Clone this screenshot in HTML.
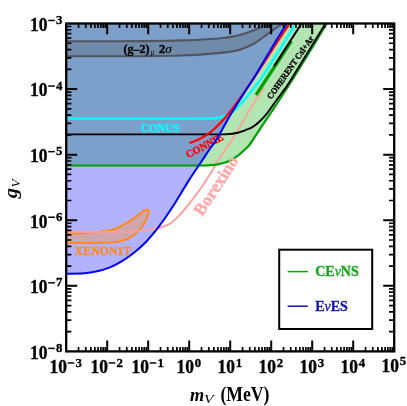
<!DOCTYPE html>
<html><head><meta charset="utf-8"><title>plot</title>
<style>html,body{margin:0;padding:0;background:#fff;}body{width:407px;height:406px;position:relative;overflow:hidden;font-family:"Liberation Serif",serif;}</style>
</head><body>
<svg width="407" height="406" viewBox="0 0 407 406" style="position:absolute;left:0;top:0;will-change:transform">
<defs><clipPath id="cf"><rect x="66.20" y="23.50" width="328.00" height="327.90"/></clipPath>
<clipPath id="cb"><path d="M66.20,273.70 C69.27,273.62 79.47,273.60 84.60,273.20 C89.73,272.80 92.88,272.23 97.00,271.30 C101.12,270.37 105.20,269.25 109.30,267.60 C113.40,265.95 117.50,263.87 121.60,261.40 C125.70,258.93 129.80,256.08 133.90,252.80 C138.00,249.52 143.10,244.75 146.20,241.70 C149.30,238.65 150.55,236.82 152.50,234.50 C154.45,232.18 155.68,230.72 157.90,227.80 C160.12,224.88 163.18,220.77 165.80,217.00 C168.42,213.23 170.98,209.30 173.60,205.20 C176.22,201.10 178.87,196.67 181.50,192.40 C184.13,188.13 186.77,183.72 189.40,179.60 C192.03,175.48 195.00,171.15 197.30,167.70 C199.60,164.25 201.23,161.85 203.20,158.90 C205.17,155.95 206.92,153.15 209.10,150.00 C211.28,146.85 214.12,143.42 216.30,140.00 C218.48,136.58 219.98,133.47 222.20,129.50 C224.42,125.53 227.15,120.38 229.60,116.20 C232.05,112.02 234.45,108.33 236.90,104.40 C239.35,100.47 241.70,96.67 244.30,92.60 C246.90,88.53 250.62,82.93 252.50,80.00 C254.38,77.07 251.85,81.25 255.60,75.00 C259.35,68.75 269.83,51.00 275.00,42.50 C280.17,34.00 284.67,27.08 286.60,24.00 L286.60,23.50 L66.20,23.50 Z"/></clipPath>
<clipPath id="cg"><path d="M66.20,165.50 C80.17,165.50 127.70,165.50 150.00,165.50 C172.30,165.50 190.00,165.55 200.00,165.50 C210.00,165.45 207.00,165.40 210.00,165.20 C213.00,165.00 215.33,164.78 218.00,164.30 C220.67,163.82 223.50,163.18 226.00,162.30 C228.50,161.42 230.67,160.38 233.00,159.00 C235.33,157.62 237.83,155.75 240.00,154.00 C242.17,152.25 244.43,150.00 246.00,148.50 C247.57,147.00 247.60,147.45 249.40,145.00 C251.20,142.55 254.33,137.52 256.80,133.80 C259.27,130.08 261.73,126.40 264.20,122.70 C266.67,119.00 269.13,115.30 271.60,111.60 C274.07,107.90 276.10,104.93 279.00,100.50 C281.90,96.07 285.25,90.95 289.00,85.00 C292.75,79.05 295.25,74.97 301.50,64.80 C307.75,54.63 322.33,30.80 326.50,24.00 L326.50,23.50 L66.20,23.50 Z"/></clipPath>
</defs>
<rect width="407" height="406" fill="#fff"/>
<g clip-path="url(#cf)">
<path d="M66.20,273.70 C69.27,273.62 79.47,273.60 84.60,273.20 C89.73,272.80 92.88,272.23 97.00,271.30 C101.12,270.37 105.20,269.25 109.30,267.60 C113.40,265.95 117.50,263.87 121.60,261.40 C125.70,258.93 129.80,256.08 133.90,252.80 C138.00,249.52 143.10,244.75 146.20,241.70 C149.30,238.65 150.55,236.82 152.50,234.50 C154.45,232.18 155.68,230.72 157.90,227.80 C160.12,224.88 163.18,220.77 165.80,217.00 C168.42,213.23 170.98,209.30 173.60,205.20 C176.22,201.10 178.87,196.67 181.50,192.40 C184.13,188.13 186.77,183.72 189.40,179.60 C192.03,175.48 195.00,171.15 197.30,167.70 C199.60,164.25 201.23,161.85 203.20,158.90 C205.17,155.95 206.92,153.15 209.10,150.00 C211.28,146.85 214.12,143.42 216.30,140.00 C218.48,136.58 219.98,133.47 222.20,129.50 C224.42,125.53 227.15,120.38 229.60,116.20 C232.05,112.02 234.45,108.33 236.90,104.40 C239.35,100.47 241.70,96.67 244.30,92.60 C246.90,88.53 250.62,82.93 252.50,80.00 C254.38,77.07 251.85,81.25 255.60,75.00 C259.35,68.75 269.83,51.00 275.00,42.50 C280.17,34.00 284.67,27.08 286.60,24.00 L286.60,23.50 L66.20,23.50 Z" fill="#b2b2ff"/>
<path d="M66.20,165.50 C80.17,165.50 127.70,165.50 150.00,165.50 C172.30,165.50 190.00,165.55 200.00,165.50 C210.00,165.45 207.00,165.40 210.00,165.20 C213.00,165.00 215.33,164.78 218.00,164.30 C220.67,163.82 223.50,163.18 226.00,162.30 C228.50,161.42 230.67,160.38 233.00,159.00 C235.33,157.62 237.83,155.75 240.00,154.00 C242.17,152.25 244.43,150.00 246.00,148.50 C247.57,147.00 247.60,147.45 249.40,145.00 C251.20,142.55 254.33,137.52 256.80,133.80 C259.27,130.08 261.73,126.40 264.20,122.70 C266.67,119.00 269.13,115.30 271.60,111.60 C274.07,107.90 276.10,104.93 279.00,100.50 C281.90,96.07 285.25,90.95 289.00,85.00 C292.75,79.05 295.25,74.97 301.50,64.80 C307.75,54.63 322.33,30.80 326.50,24.00 L326.50,23.50 L66.20,23.50 Z" fill="#b2e5b2"/>
<g clip-path="url(#cb)"><path d="M66.20,165.50 C80.17,165.50 127.70,165.50 150.00,165.50 C172.30,165.50 190.00,165.55 200.00,165.50 C210.00,165.45 207.00,165.40 210.00,165.20 C213.00,165.00 215.33,164.78 218.00,164.30 C220.67,163.82 223.50,163.18 226.00,162.30 C228.50,161.42 230.67,160.38 233.00,159.00 C235.33,157.62 237.83,155.75 240.00,154.00 C242.17,152.25 244.43,150.00 246.00,148.50 C247.57,147.00 247.60,147.45 249.40,145.00 C251.20,142.55 254.33,137.52 256.80,133.80 C259.27,130.08 261.73,126.40 264.20,122.70 C266.67,119.00 269.13,115.30 271.60,111.60 C274.07,107.90 276.10,104.93 279.00,100.50 C281.90,96.07 285.25,90.95 289.00,85.00 C292.75,79.05 295.25,74.97 301.50,64.80 C307.75,54.63 322.33,30.80 326.50,24.00 L326.50,23.50 L66.20,23.50 Z" fill="#7da0cb"/></g>
<g clip-path="url(#cb)"><path d="M66.20,41.20 C71.83,41.20 87.70,41.22 100.00,41.20 C112.30,41.18 128.33,41.18 140.00,41.10 C151.67,41.02 162.55,40.83 170.00,40.70 C177.45,40.57 179.78,40.45 184.70,40.30 C189.62,40.15 194.58,40.05 199.50,39.80 C204.42,39.55 209.62,39.18 214.20,38.80 C218.78,38.42 222.75,38.12 227.00,37.50 C231.25,36.88 235.12,36.35 239.70,35.10 C244.28,33.85 250.57,31.48 254.50,30.00 C258.43,28.52 260.97,27.28 263.30,26.20 C265.63,25.12 267.22,24.20 268.50,23.50 C269.78,22.80 270.58,22.25 271.00,22.00 L284.00,22.00 C283.72,22.25 283.03,22.92 282.30,23.50 C281.57,24.08 281.78,23.93 279.60,25.50 C277.42,27.07 273.38,29.93 269.20,32.90 C265.02,35.87 259.42,40.50 254.50,43.30 C249.58,46.10 244.28,48.23 239.70,49.70 C235.12,51.17 231.25,51.48 227.00,52.10 C222.75,52.72 218.78,52.98 214.20,53.40 C209.62,53.82 204.42,54.28 199.50,54.60 C194.58,54.92 189.62,55.10 184.70,55.30 C179.78,55.50 177.45,55.65 170.00,55.80 C162.55,55.95 151.67,56.12 140.00,56.20 C128.33,56.28 112.30,56.28 100.00,56.30 C87.70,56.32 71.83,56.30 66.20,56.30 Z" fill="#708aaa"/>
<path d="M66.20,41.20 C71.83,41.20 87.70,41.22 100.00,41.20 C112.30,41.18 128.33,41.18 140.00,41.10 C151.67,41.02 162.55,40.83 170.00,40.70 C177.45,40.57 179.78,40.45 184.70,40.30 C189.62,40.15 194.58,40.05 199.50,39.80 C204.42,39.55 209.62,39.18 214.20,38.80 C218.78,38.42 222.75,38.12 227.00,37.50 C231.25,36.88 235.12,36.35 239.70,35.10 C244.28,33.85 250.57,31.48 254.50,30.00 C258.43,28.52 260.97,27.28 263.30,26.20 C265.63,25.12 267.22,24.20 268.50,23.50 C269.78,22.80 270.58,22.25 271.00,22.00" fill="none" stroke="#50555f" stroke-width="2.1"/>
<path d="M66.20,56.30 C71.83,56.30 87.70,56.32 100.00,56.30 C112.30,56.28 128.33,56.28 140.00,56.20 C151.67,56.12 162.55,55.95 170.00,55.80 C177.45,55.65 179.78,55.50 184.70,55.30 C189.62,55.10 194.58,54.92 199.50,54.60 C204.42,54.28 209.62,53.82 214.20,53.40 C218.78,52.98 222.75,52.72 227.00,52.10 C231.25,51.48 235.12,51.17 239.70,49.70 C244.28,48.23 249.58,46.10 254.50,43.30 C259.42,40.50 265.02,35.87 269.20,32.90 C273.38,29.93 277.42,27.07 279.60,25.50 C281.78,23.93 281.57,24.08 282.30,23.50 C283.03,22.92 283.72,22.25 284.00,22.00" fill="none" stroke="#50555f" stroke-width="2.1"/></g>
<g transform="translate(188.00,158.30) rotate(-27.50) scale(0.980,1)"><text x="0" y="0" font-family="Liberation Serif, serif" font-weight="bold" font-size="10.50" fill="#ff0000" stroke="#ff0000" stroke-width="0.35" text-anchor="start">CONNIE</text></g>
<path d="M66.20,233.10 C69.27,233.07 77.42,233.32 84.60,232.90 C91.78,232.48 103.13,231.80 109.30,230.60 C115.47,229.40 117.50,227.75 121.60,225.70 C125.70,223.65 130.22,220.77 133.90,218.30 C137.58,215.83 141.45,212.33 143.70,210.90 C145.95,209.47 146.57,209.28 147.40,209.70 C148.23,210.12 149.10,211.35 148.70,213.40 C148.30,215.45 146.65,219.13 145.00,222.00 C143.35,224.87 141.07,228.13 138.80,230.60 C136.53,233.07 134.27,235.07 131.40,236.80 C128.53,238.53 125.28,240.05 121.60,241.00 C117.92,241.95 115.47,242.17 109.30,242.50 C103.13,242.83 91.78,242.92 84.60,243.00 C77.42,243.08 69.27,243.00 66.20,243.00 Z" fill="#cfa6ad" stroke="#ff8a1c" stroke-width="2" stroke-linejoin="round"/>
<path d="M66.20,231.90 C71.83,231.90 88.72,232.02 100.00,231.90 C111.28,231.78 126.20,231.50 133.90,231.20 C141.60,230.90 142.87,230.50 146.20,230.10 C149.53,229.70 151.30,229.28 153.90,228.80 C156.50,228.32 159.17,228.02 161.80,227.20 C164.43,226.38 167.40,225.27 169.70,223.90 C172.00,222.53 173.63,220.80 175.60,219.00 C177.57,217.20 179.17,215.73 181.50,213.10 C183.83,210.47 186.87,206.65 189.60,203.20 C192.33,199.75 195.50,195.68 197.90,192.40 C200.30,189.12 202.02,186.47 204.00,183.50 C205.98,180.53 207.88,177.72 209.80,174.60 C211.72,171.48 213.60,167.92 215.50,164.80 C217.40,161.68 219.62,158.37 221.20,155.90 C222.78,153.43 223.23,152.65 225.00,150.00 C226.77,147.35 229.82,143.05 231.80,140.00 C233.78,136.95 234.82,135.17 236.90,131.70 C238.98,128.23 241.83,123.38 244.30,119.20 C246.77,115.02 249.35,110.42 251.70,106.60 C254.05,102.78 256.35,99.40 258.40,96.30 C260.45,93.20 263.07,89.38 264.00,88.00" fill="none" stroke="#ffa0a0" stroke-width="1.9"/>
<path d="M66.20,165.50 C80.17,165.50 127.70,165.50 150.00,165.50 C172.30,165.50 190.00,165.55 200.00,165.50 C210.00,165.45 207.00,165.40 210.00,165.20 C213.00,165.00 215.33,164.78 218.00,164.30 C220.67,163.82 223.50,163.18 226.00,162.30 C228.50,161.42 230.67,160.38 233.00,159.00 C235.33,157.62 237.83,155.75 240.00,154.00 C242.17,152.25 244.43,150.00 246.00,148.50 C247.57,147.00 247.60,147.45 249.40,145.00 C251.20,142.55 254.33,137.52 256.80,133.80 C259.27,130.08 261.73,126.40 264.20,122.70 C266.67,119.00 269.13,115.30 271.60,111.60 C274.07,107.90 276.10,104.93 279.00,100.50 C281.90,96.07 285.25,90.95 289.00,85.00 C292.75,79.05 295.25,74.97 301.50,64.80 C307.75,54.63 322.33,30.80 326.50,24.00" fill="none" stroke="#00a000" stroke-width="2.2"/>
<path d="M256.0,95.0 L291.5,41.0" fill="none" stroke="#00a000" stroke-width="3.2"/>
<path d="M274.0,66.3 L301.2,24.0" fill="none" stroke="#000" stroke-width="2"/>
<path d="M66.20,134.40 C80.17,134.40 125.20,134.40 150.00,134.40 C174.80,134.40 202.33,134.43 215.00,134.40 C227.67,134.37 222.35,134.43 226.00,134.20 C229.65,133.97 233.73,133.65 236.90,133.00 C240.07,132.35 242.42,131.28 245.00,130.30 C247.58,129.32 249.93,128.62 252.40,127.10 C254.87,125.58 257.33,123.53 259.80,121.20 C262.27,118.87 264.73,116.18 267.20,113.10 C269.67,110.02 272.15,106.08 274.60,102.70 C277.05,99.32 279.73,95.75 281.90,92.80 C284.07,89.85 284.58,89.63 287.60,85.00 C290.62,80.37 293.73,75.17 300.00,65.00 C306.27,54.83 321.00,30.83 325.20,24.00" fill="none" stroke="#000" stroke-width="1.9"/>
<path d="M66.20,118.60 C80.17,118.60 127.70,118.60 150.00,118.60 C172.30,118.60 189.20,118.67 200.00,118.60 C210.80,118.53 211.10,118.47 214.80,118.20 C218.50,117.93 219.73,117.73 222.20,117.00 C224.67,116.27 227.38,115.08 229.60,113.80 C231.82,112.52 233.53,111.07 235.50,109.30 C237.47,107.53 239.43,105.33 241.40,103.20 C243.37,101.07 245.33,98.92 247.30,96.50 C249.27,94.08 251.08,91.45 253.20,88.70 C255.32,85.95 258.23,82.37 260.00,80.00 C261.77,77.63 261.30,78.33 263.80,74.50 C266.30,70.67 270.33,64.42 275.00,57.00 C279.67,49.58 288.40,35.50 291.80,30.00 C295.20,24.50 294.80,25.00 295.40,24.00" fill="none" stroke="#00ffff" stroke-width="2.4"/>
<path d="M189.50,143.20 C191.25,142.45 197.02,140.17 200.00,138.70 C202.98,137.23 204.93,136.10 207.40,134.40 C209.87,132.70 212.33,130.72 214.80,128.50 C217.27,126.28 219.73,123.80 222.20,121.10 C224.67,118.40 227.22,115.28 229.60,112.30 C231.98,109.32 234.18,106.37 236.50,103.20 C238.82,100.03 241.25,96.53 243.50,93.30 C245.75,90.07 247.75,87.10 250.00,83.80 C252.25,80.50 252.83,79.88 257.00,73.50 C261.17,67.12 270.28,52.75 275.00,45.50 C279.72,38.25 282.93,33.58 285.30,30.00 C287.67,26.42 288.55,25.00 289.20,24.00" fill="none" stroke="#ff0000" stroke-width="2.2"/>
<path d="M66.20,273.70 C69.27,273.62 79.47,273.60 84.60,273.20 C89.73,272.80 92.88,272.23 97.00,271.30 C101.12,270.37 105.20,269.25 109.30,267.60 C113.40,265.95 117.50,263.87 121.60,261.40 C125.70,258.93 129.80,256.08 133.90,252.80 C138.00,249.52 143.10,244.75 146.20,241.70 C149.30,238.65 150.55,236.82 152.50,234.50 C154.45,232.18 155.68,230.72 157.90,227.80 C160.12,224.88 163.18,220.77 165.80,217.00 C168.42,213.23 170.98,209.30 173.60,205.20 C176.22,201.10 178.87,196.67 181.50,192.40 C184.13,188.13 186.77,183.72 189.40,179.60 C192.03,175.48 195.00,171.15 197.30,167.70 C199.60,164.25 201.23,161.85 203.20,158.90 C205.17,155.95 206.92,153.15 209.10,150.00 C211.28,146.85 214.12,143.42 216.30,140.00 C218.48,136.58 219.98,133.47 222.20,129.50 C224.42,125.53 227.15,120.38 229.60,116.20 C232.05,112.02 234.45,108.33 236.90,104.40 C239.35,100.47 241.70,96.67 244.30,92.60 C246.90,88.53 250.62,82.93 252.50,80.00 C254.38,77.07 251.85,81.25 255.60,75.00 C259.35,68.75 269.83,51.00 275.00,42.50 C280.17,34.00 284.67,27.08 286.60,24.00" fill="none" stroke="#0000ff" stroke-width="2"/>
</g>
<g transform="translate(74.60,254.70) rotate(0.00) scale(0.985,1)"><text x="0" y="0" font-family="Liberation Serif, serif" font-weight="bold" font-size="12.00" fill="#ff8a1c" stroke="#ff8a1c" stroke-width="0.35" text-anchor="start">XENON1T</text></g>
<g transform="translate(140.80,132.40) rotate(0.00) scale(0.950,1)"><text x="0" y="0" font-family="Liberation Serif, serif" font-weight="bold" font-size="11.60" fill="#00ffff" stroke="#00ffff" stroke-width="0.35" text-anchor="start">CONUS</text></g>
<g transform="translate(202.30,216.90) rotate(-56.70) scale(0.990,1)"><text x="0" y="0" font-family="Liberation Serif, serif" font-weight="bold" font-size="17.50" fill="#ffa8a8" stroke="#ffa8a8" stroke-width="0.35" text-anchor="start">Borexino</text></g>
<g transform="translate(271.30,99.80) rotate(-55.00) scale(0.925,1)"><text x="0" y="0" font-family="Liberation Serif, serif" font-weight="bold" font-size="8.80" fill="#000" stroke="#000" stroke-width="0.35" text-anchor="start">COHERENT CsI+Ar</text></g>
<g transform="translate(123.50,52.70) rotate(0.00) scale(1.040,1)"><text x="0" y="0" font-family="Liberation Serif, serif" font-weight="bold" font-size="11.50" fill="#000" stroke="#000" stroke-width="0.35" text-anchor="start">(g–2)</text></g>
<g transform="translate(150.4,54.8) scale(1.0,1)"><text font-family="Liberation Serif, serif" font-style="italic" font-size="7.5" fill="#000">μ</text></g>
<g transform="translate(158.90,52.70) rotate(0.00) scale(1.080,1)"><text x="0" y="0" font-family="Liberation Serif, serif" font-weight="bold" font-size="11.50" fill="#000" stroke="#000" stroke-width="0.35" text-anchor="start">2</text></g>
<g transform="translate(165.2,52.7) scale(1.15,1)"><text font-family="Liberation Serif, serif" font-style="italic" font-size="11.5" fill="#000" stroke="#000" stroke-width="0.2">σ</text></g>
<path d="M78.54,351.40 v-4.4 M78.54,23.50 v4.4" stroke="#000" stroke-width="1.7" fill="none"/>
<path d="M85.76,351.40 v-4.4 M85.76,23.50 v4.4" stroke="#000" stroke-width="1.7" fill="none"/>
<path d="M90.88,351.40 v-4.4 M90.88,23.50 v4.4" stroke="#000" stroke-width="1.7" fill="none"/>
<path d="M94.86,351.40 v-4.4 M94.86,23.50 v4.4" stroke="#000" stroke-width="1.7" fill="none"/>
<path d="M98.10,351.40 v-4.4 M98.10,23.50 v4.4" stroke="#000" stroke-width="1.7" fill="none"/>
<path d="M100.85,351.40 v-4.4 M100.85,23.50 v4.4" stroke="#000" stroke-width="1.7" fill="none"/>
<path d="M103.23,351.40 v-4.4 M103.23,23.50 v4.4" stroke="#000" stroke-width="1.7" fill="none"/>
<path d="M105.32,351.40 v-4.4 M105.32,23.50 v4.4" stroke="#000" stroke-width="1.7" fill="none"/>
<path d="M107.20,351.40 v-10.8 M107.20,23.50 v10.8" stroke="#000" stroke-width="2.0" fill="none"/>
<path d="M119.54,351.40 v-4.4 M119.54,23.50 v4.4" stroke="#000" stroke-width="1.7" fill="none"/>
<path d="M126.76,351.40 v-4.4 M126.76,23.50 v4.4" stroke="#000" stroke-width="1.7" fill="none"/>
<path d="M131.88,351.40 v-4.4 M131.88,23.50 v4.4" stroke="#000" stroke-width="1.7" fill="none"/>
<path d="M135.86,351.40 v-4.4 M135.86,23.50 v4.4" stroke="#000" stroke-width="1.7" fill="none"/>
<path d="M139.10,351.40 v-4.4 M139.10,23.50 v4.4" stroke="#000" stroke-width="1.7" fill="none"/>
<path d="M141.85,351.40 v-4.4 M141.85,23.50 v4.4" stroke="#000" stroke-width="1.7" fill="none"/>
<path d="M144.23,351.40 v-4.4 M144.23,23.50 v4.4" stroke="#000" stroke-width="1.7" fill="none"/>
<path d="M146.32,351.40 v-4.4 M146.32,23.50 v4.4" stroke="#000" stroke-width="1.7" fill="none"/>
<path d="M148.20,351.40 v-10.8 M148.20,23.50 v10.8" stroke="#000" stroke-width="2.0" fill="none"/>
<path d="M160.54,351.40 v-4.4 M160.54,23.50 v4.4" stroke="#000" stroke-width="1.7" fill="none"/>
<path d="M167.76,351.40 v-4.4 M167.76,23.50 v4.4" stroke="#000" stroke-width="1.7" fill="none"/>
<path d="M172.88,351.40 v-4.4 M172.88,23.50 v4.4" stroke="#000" stroke-width="1.7" fill="none"/>
<path d="M176.86,351.40 v-4.4 M176.86,23.50 v4.4" stroke="#000" stroke-width="1.7" fill="none"/>
<path d="M180.10,351.40 v-4.4 M180.10,23.50 v4.4" stroke="#000" stroke-width="1.7" fill="none"/>
<path d="M182.85,351.40 v-4.4 M182.85,23.50 v4.4" stroke="#000" stroke-width="1.7" fill="none"/>
<path d="M185.23,351.40 v-4.4 M185.23,23.50 v4.4" stroke="#000" stroke-width="1.7" fill="none"/>
<path d="M187.32,351.40 v-4.4 M187.32,23.50 v4.4" stroke="#000" stroke-width="1.7" fill="none"/>
<path d="M189.20,351.40 v-10.8 M189.20,23.50 v10.8" stroke="#000" stroke-width="2.0" fill="none"/>
<path d="M201.54,351.40 v-4.4 M201.54,23.50 v4.4" stroke="#000" stroke-width="1.7" fill="none"/>
<path d="M208.76,351.40 v-4.4 M208.76,23.50 v4.4" stroke="#000" stroke-width="1.7" fill="none"/>
<path d="M213.88,351.40 v-4.4 M213.88,23.50 v4.4" stroke="#000" stroke-width="1.7" fill="none"/>
<path d="M217.86,351.40 v-4.4 M217.86,23.50 v4.4" stroke="#000" stroke-width="1.7" fill="none"/>
<path d="M221.10,351.40 v-4.4 M221.10,23.50 v4.4" stroke="#000" stroke-width="1.7" fill="none"/>
<path d="M223.85,351.40 v-4.4 M223.85,23.50 v4.4" stroke="#000" stroke-width="1.7" fill="none"/>
<path d="M226.23,351.40 v-4.4 M226.23,23.50 v4.4" stroke="#000" stroke-width="1.7" fill="none"/>
<path d="M228.32,351.40 v-4.4 M228.32,23.50 v4.4" stroke="#000" stroke-width="1.7" fill="none"/>
<path d="M230.20,351.40 v-10.8 M230.20,23.50 v10.8" stroke="#000" stroke-width="2.0" fill="none"/>
<path d="M242.54,351.40 v-4.4 M242.54,23.50 v4.4" stroke="#000" stroke-width="1.7" fill="none"/>
<path d="M249.76,351.40 v-4.4 M249.76,23.50 v4.4" stroke="#000" stroke-width="1.7" fill="none"/>
<path d="M254.88,351.40 v-4.4 M254.88,23.50 v4.4" stroke="#000" stroke-width="1.7" fill="none"/>
<path d="M258.86,351.40 v-4.4 M258.86,23.50 v4.4" stroke="#000" stroke-width="1.7" fill="none"/>
<path d="M262.10,351.40 v-4.4 M262.10,23.50 v4.4" stroke="#000" stroke-width="1.7" fill="none"/>
<path d="M264.85,351.40 v-4.4 M264.85,23.50 v4.4" stroke="#000" stroke-width="1.7" fill="none"/>
<path d="M267.23,351.40 v-4.4 M267.23,23.50 v4.4" stroke="#000" stroke-width="1.7" fill="none"/>
<path d="M269.32,351.40 v-4.4 M269.32,23.50 v4.4" stroke="#000" stroke-width="1.7" fill="none"/>
<path d="M271.20,351.40 v-10.8 M271.20,23.50 v10.8" stroke="#000" stroke-width="2.0" fill="none"/>
<path d="M283.54,351.40 v-4.4 M283.54,23.50 v4.4" stroke="#000" stroke-width="1.7" fill="none"/>
<path d="M290.76,351.40 v-4.4 M290.76,23.50 v4.4" stroke="#000" stroke-width="1.7" fill="none"/>
<path d="M295.88,351.40 v-4.4 M295.88,23.50 v4.4" stroke="#000" stroke-width="1.7" fill="none"/>
<path d="M299.86,351.40 v-4.4 M299.86,23.50 v4.4" stroke="#000" stroke-width="1.7" fill="none"/>
<path d="M303.10,351.40 v-4.4 M303.10,23.50 v4.4" stroke="#000" stroke-width="1.7" fill="none"/>
<path d="M305.85,351.40 v-4.4 M305.85,23.50 v4.4" stroke="#000" stroke-width="1.7" fill="none"/>
<path d="M308.23,351.40 v-4.4 M308.23,23.50 v4.4" stroke="#000" stroke-width="1.7" fill="none"/>
<path d="M310.32,351.40 v-4.4 M310.32,23.50 v4.4" stroke="#000" stroke-width="1.7" fill="none"/>
<path d="M312.20,351.40 v-10.8 M312.20,23.50 v10.8" stroke="#000" stroke-width="2.0" fill="none"/>
<path d="M324.54,351.40 v-4.4 M324.54,23.50 v4.4" stroke="#000" stroke-width="1.7" fill="none"/>
<path d="M331.76,351.40 v-4.4 M331.76,23.50 v4.4" stroke="#000" stroke-width="1.7" fill="none"/>
<path d="M336.88,351.40 v-4.4 M336.88,23.50 v4.4" stroke="#000" stroke-width="1.7" fill="none"/>
<path d="M340.86,351.40 v-4.4 M340.86,23.50 v4.4" stroke="#000" stroke-width="1.7" fill="none"/>
<path d="M344.10,351.40 v-4.4 M344.10,23.50 v4.4" stroke="#000" stroke-width="1.7" fill="none"/>
<path d="M346.85,351.40 v-4.4 M346.85,23.50 v4.4" stroke="#000" stroke-width="1.7" fill="none"/>
<path d="M349.23,351.40 v-4.4 M349.23,23.50 v4.4" stroke="#000" stroke-width="1.7" fill="none"/>
<path d="M351.32,351.40 v-4.4 M351.32,23.50 v4.4" stroke="#000" stroke-width="1.7" fill="none"/>
<path d="M353.20,351.40 v-10.8 M353.20,23.50 v10.8" stroke="#000" stroke-width="2.0" fill="none"/>
<path d="M365.54,351.40 v-4.4 M365.54,23.50 v4.4" stroke="#000" stroke-width="1.7" fill="none"/>
<path d="M372.76,351.40 v-4.4 M372.76,23.50 v4.4" stroke="#000" stroke-width="1.7" fill="none"/>
<path d="M377.88,351.40 v-4.4 M377.88,23.50 v4.4" stroke="#000" stroke-width="1.7" fill="none"/>
<path d="M381.86,351.40 v-4.4 M381.86,23.50 v4.4" stroke="#000" stroke-width="1.7" fill="none"/>
<path d="M385.10,351.40 v-4.4 M385.10,23.50 v4.4" stroke="#000" stroke-width="1.7" fill="none"/>
<path d="M387.85,351.40 v-4.4 M387.85,23.50 v4.4" stroke="#000" stroke-width="1.7" fill="none"/>
<path d="M390.23,351.40 v-4.4 M390.23,23.50 v4.4" stroke="#000" stroke-width="1.7" fill="none"/>
<path d="M392.32,351.40 v-4.4 M392.32,23.50 v4.4" stroke="#000" stroke-width="1.7" fill="none"/>
<path d="M66.20,331.66 h5.2 M394.20,331.66 h-5.2" stroke="#000" stroke-width="1.7" fill="none"/>
<path d="M66.20,320.11 h5.2 M394.20,320.11 h-5.2" stroke="#000" stroke-width="1.7" fill="none"/>
<path d="M66.20,311.92 h5.2 M394.20,311.92 h-5.2" stroke="#000" stroke-width="1.7" fill="none"/>
<path d="M66.20,305.56 h5.2 M394.20,305.56 h-5.2" stroke="#000" stroke-width="1.7" fill="none"/>
<path d="M66.20,300.37 h5.2 M394.20,300.37 h-5.2" stroke="#000" stroke-width="1.7" fill="none"/>
<path d="M66.20,295.98 h5.2 M394.20,295.98 h-5.2" stroke="#000" stroke-width="1.7" fill="none"/>
<path d="M66.20,292.18 h5.2 M394.20,292.18 h-5.2" stroke="#000" stroke-width="1.7" fill="none"/>
<path d="M66.20,288.82 h5.2 M394.20,288.82 h-5.2" stroke="#000" stroke-width="1.7" fill="none"/>
<path d="M66.20,285.82 h11 M394.20,285.82 h-11" stroke="#000" stroke-width="2.0" fill="none"/>
<path d="M66.20,266.08 h5.2 M394.20,266.08 h-5.2" stroke="#000" stroke-width="1.7" fill="none"/>
<path d="M66.20,254.53 h5.2 M394.20,254.53 h-5.2" stroke="#000" stroke-width="1.7" fill="none"/>
<path d="M66.20,246.34 h5.2 M394.20,246.34 h-5.2" stroke="#000" stroke-width="1.7" fill="none"/>
<path d="M66.20,239.98 h5.2 M394.20,239.98 h-5.2" stroke="#000" stroke-width="1.7" fill="none"/>
<path d="M66.20,234.79 h5.2 M394.20,234.79 h-5.2" stroke="#000" stroke-width="1.7" fill="none"/>
<path d="M66.20,230.40 h5.2 M394.20,230.40 h-5.2" stroke="#000" stroke-width="1.7" fill="none"/>
<path d="M66.20,226.60 h5.2 M394.20,226.60 h-5.2" stroke="#000" stroke-width="1.7" fill="none"/>
<path d="M66.20,223.24 h5.2 M394.20,223.24 h-5.2" stroke="#000" stroke-width="1.7" fill="none"/>
<path d="M66.20,220.24 h11 M394.20,220.24 h-11" stroke="#000" stroke-width="2.0" fill="none"/>
<path d="M66.20,200.50 h5.2 M394.20,200.50 h-5.2" stroke="#000" stroke-width="1.7" fill="none"/>
<path d="M66.20,188.95 h5.2 M394.20,188.95 h-5.2" stroke="#000" stroke-width="1.7" fill="none"/>
<path d="M66.20,180.76 h5.2 M394.20,180.76 h-5.2" stroke="#000" stroke-width="1.7" fill="none"/>
<path d="M66.20,174.40 h5.2 M394.20,174.40 h-5.2" stroke="#000" stroke-width="1.7" fill="none"/>
<path d="M66.20,169.21 h5.2 M394.20,169.21 h-5.2" stroke="#000" stroke-width="1.7" fill="none"/>
<path d="M66.20,164.82 h5.2 M394.20,164.82 h-5.2" stroke="#000" stroke-width="1.7" fill="none"/>
<path d="M66.20,161.02 h5.2 M394.20,161.02 h-5.2" stroke="#000" stroke-width="1.7" fill="none"/>
<path d="M66.20,157.66 h5.2 M394.20,157.66 h-5.2" stroke="#000" stroke-width="1.7" fill="none"/>
<path d="M66.20,154.66 h11 M394.20,154.66 h-11" stroke="#000" stroke-width="2.0" fill="none"/>
<path d="M66.20,134.92 h5.2 M394.20,134.92 h-5.2" stroke="#000" stroke-width="1.7" fill="none"/>
<path d="M66.20,123.37 h5.2 M394.20,123.37 h-5.2" stroke="#000" stroke-width="1.7" fill="none"/>
<path d="M66.20,115.18 h5.2 M394.20,115.18 h-5.2" stroke="#000" stroke-width="1.7" fill="none"/>
<path d="M66.20,108.82 h5.2 M394.20,108.82 h-5.2" stroke="#000" stroke-width="1.7" fill="none"/>
<path d="M66.20,103.63 h5.2 M394.20,103.63 h-5.2" stroke="#000" stroke-width="1.7" fill="none"/>
<path d="M66.20,99.24 h5.2 M394.20,99.24 h-5.2" stroke="#000" stroke-width="1.7" fill="none"/>
<path d="M66.20,95.44 h5.2 M394.20,95.44 h-5.2" stroke="#000" stroke-width="1.7" fill="none"/>
<path d="M66.20,92.08 h5.2 M394.20,92.08 h-5.2" stroke="#000" stroke-width="1.7" fill="none"/>
<path d="M66.20,89.08 h11 M394.20,89.08 h-11" stroke="#000" stroke-width="2.0" fill="none"/>
<path d="M66.20,69.34 h5.2 M394.20,69.34 h-5.2" stroke="#000" stroke-width="1.7" fill="none"/>
<path d="M66.20,57.79 h5.2 M394.20,57.79 h-5.2" stroke="#000" stroke-width="1.7" fill="none"/>
<path d="M66.20,49.60 h5.2 M394.20,49.60 h-5.2" stroke="#000" stroke-width="1.7" fill="none"/>
<path d="M66.20,43.24 h5.2 M394.20,43.24 h-5.2" stroke="#000" stroke-width="1.7" fill="none"/>
<path d="M66.20,38.05 h5.2 M394.20,38.05 h-5.2" stroke="#000" stroke-width="1.7" fill="none"/>
<path d="M66.20,33.66 h5.2 M394.20,33.66 h-5.2" stroke="#000" stroke-width="1.7" fill="none"/>
<path d="M66.20,29.86 h5.2 M394.20,29.86 h-5.2" stroke="#000" stroke-width="1.7" fill="none"/>
<path d="M66.20,26.50 h5.2 M394.20,26.50 h-5.2" stroke="#000" stroke-width="1.7" fill="none"/>
<rect x="66.20" y="23.50" width="328.00" height="327.90" fill="none" stroke="#000" stroke-width="2.3"/>
<g transform="translate(81.80,366.60) rotate(0.00) scale(0.950,1)"><text x="0" y="0" font-family="Liberation Serif, serif" font-weight="bold" font-size="13.50" fill="#000" stroke="#000" stroke-width="0.35" text-anchor="end">3</text></g><rect x="67.60" y="362.25" width="6.7" height="1.45" fill="#000"/><g transform="translate(66.90,373.40) rotate(0.00) scale(0.920,1)"><text x="0" y="0" font-family="Liberation Serif, serif" font-weight="bold" font-size="19.00" fill="#000" stroke="#000" stroke-width="0.35" text-anchor="end">10</text></g>
<g transform="translate(122.80,366.60) rotate(0.00) scale(0.950,1)"><text x="0" y="0" font-family="Liberation Serif, serif" font-weight="bold" font-size="13.50" fill="#000" stroke="#000" stroke-width="0.35" text-anchor="end">2</text></g><rect x="108.60" y="362.25" width="6.7" height="1.45" fill="#000"/><g transform="translate(107.90,373.40) rotate(0.00) scale(0.920,1)"><text x="0" y="0" font-family="Liberation Serif, serif" font-weight="bold" font-size="19.00" fill="#000" stroke="#000" stroke-width="0.35" text-anchor="end">10</text></g>
<g transform="translate(163.80,366.60) rotate(0.00) scale(0.950,1)"><text x="0" y="0" font-family="Liberation Serif, serif" font-weight="bold" font-size="13.50" fill="#000" stroke="#000" stroke-width="0.35" text-anchor="end">1</text></g><rect x="149.60" y="362.25" width="6.7" height="1.45" fill="#000"/><g transform="translate(148.90,373.40) rotate(0.00) scale(0.920,1)"><text x="0" y="0" font-family="Liberation Serif, serif" font-weight="bold" font-size="19.00" fill="#000" stroke="#000" stroke-width="0.35" text-anchor="end">10</text></g>
<g transform="translate(201.15,366.60) rotate(0.00) scale(0.950,1)"><text x="0" y="0" font-family="Liberation Serif, serif" font-weight="bold" font-size="13.50" fill="#000" stroke="#000" stroke-width="0.35" text-anchor="end">0</text></g><g transform="translate(193.95,373.40) rotate(0.00) scale(0.920,1)"><text x="0" y="0" font-family="Liberation Serif, serif" font-weight="bold" font-size="19.00" fill="#000" stroke="#000" stroke-width="0.35" text-anchor="end">10</text></g>
<g transform="translate(242.15,366.60) rotate(0.00) scale(0.950,1)"><text x="0" y="0" font-family="Liberation Serif, serif" font-weight="bold" font-size="13.50" fill="#000" stroke="#000" stroke-width="0.35" text-anchor="end">1</text></g><g transform="translate(234.95,373.40) rotate(0.00) scale(0.920,1)"><text x="0" y="0" font-family="Liberation Serif, serif" font-weight="bold" font-size="19.00" fill="#000" stroke="#000" stroke-width="0.35" text-anchor="end">10</text></g>
<g transform="translate(283.15,366.60) rotate(0.00) scale(0.950,1)"><text x="0" y="0" font-family="Liberation Serif, serif" font-weight="bold" font-size="13.50" fill="#000" stroke="#000" stroke-width="0.35" text-anchor="end">2</text></g><g transform="translate(275.95,373.40) rotate(0.00) scale(0.920,1)"><text x="0" y="0" font-family="Liberation Serif, serif" font-weight="bold" font-size="19.00" fill="#000" stroke="#000" stroke-width="0.35" text-anchor="end">10</text></g>
<g transform="translate(324.15,366.60) rotate(0.00) scale(0.950,1)"><text x="0" y="0" font-family="Liberation Serif, serif" font-weight="bold" font-size="13.50" fill="#000" stroke="#000" stroke-width="0.35" text-anchor="end">3</text></g><g transform="translate(316.95,373.40) rotate(0.00) scale(0.920,1)"><text x="0" y="0" font-family="Liberation Serif, serif" font-weight="bold" font-size="19.00" fill="#000" stroke="#000" stroke-width="0.35" text-anchor="end">10</text></g>
<g transform="translate(365.15,366.60) rotate(0.00) scale(0.950,1)"><text x="0" y="0" font-family="Liberation Serif, serif" font-weight="bold" font-size="13.50" fill="#000" stroke="#000" stroke-width="0.35" text-anchor="end">4</text></g><g transform="translate(357.95,373.40) rotate(0.00) scale(0.920,1)"><text x="0" y="0" font-family="Liberation Serif, serif" font-weight="bold" font-size="19.00" fill="#000" stroke="#000" stroke-width="0.35" text-anchor="end">10</text></g>
<g transform="translate(406.15,364.80) rotate(0.00) scale(0.950,1)"><text x="0" y="0" font-family="Liberation Serif, serif" font-weight="bold" font-size="13.50" fill="#000" stroke="#000" stroke-width="0.35" text-anchor="end">5</text></g><g transform="translate(398.95,371.60) rotate(0.00) scale(0.920,1)"><text x="0" y="0" font-family="Liberation Serif, serif" font-weight="bold" font-size="19.00" fill="#000" stroke="#000" stroke-width="0.35" text-anchor="end">10</text></g>
<g transform="translate(62.40,352.00) rotate(0.00) scale(0.950,1)"><text x="0" y="0" font-family="Liberation Serif, serif" font-weight="bold" font-size="13.50" fill="#000" stroke="#000" stroke-width="0.35" text-anchor="end">8</text></g><rect x="48.20" y="347.65" width="6.7" height="1.45" fill="#000"/><g transform="translate(47.50,358.80) rotate(0.00) scale(0.920,1)"><text x="0" y="0" font-family="Liberation Serif, serif" font-weight="bold" font-size="19.00" fill="#000" stroke="#000" stroke-width="0.35" text-anchor="end">10</text></g>
<g transform="translate(62.40,286.42) rotate(0.00) scale(0.950,1)"><text x="0" y="0" font-family="Liberation Serif, serif" font-weight="bold" font-size="13.50" fill="#000" stroke="#000" stroke-width="0.35" text-anchor="end">7</text></g><rect x="48.20" y="282.07" width="6.7" height="1.45" fill="#000"/><g transform="translate(47.50,293.22) rotate(0.00) scale(0.920,1)"><text x="0" y="0" font-family="Liberation Serif, serif" font-weight="bold" font-size="19.00" fill="#000" stroke="#000" stroke-width="0.35" text-anchor="end">10</text></g>
<g transform="translate(62.40,220.84) rotate(0.00) scale(0.950,1)"><text x="0" y="0" font-family="Liberation Serif, serif" font-weight="bold" font-size="13.50" fill="#000" stroke="#000" stroke-width="0.35" text-anchor="end">6</text></g><rect x="48.20" y="216.49" width="6.7" height="1.45" fill="#000"/><g transform="translate(47.50,227.64) rotate(0.00) scale(0.920,1)"><text x="0" y="0" font-family="Liberation Serif, serif" font-weight="bold" font-size="19.00" fill="#000" stroke="#000" stroke-width="0.35" text-anchor="end">10</text></g>
<g transform="translate(62.40,155.26) rotate(0.00) scale(0.950,1)"><text x="0" y="0" font-family="Liberation Serif, serif" font-weight="bold" font-size="13.50" fill="#000" stroke="#000" stroke-width="0.35" text-anchor="end">5</text></g><rect x="48.20" y="150.91" width="6.7" height="1.45" fill="#000"/><g transform="translate(47.50,162.06) rotate(0.00) scale(0.920,1)"><text x="0" y="0" font-family="Liberation Serif, serif" font-weight="bold" font-size="19.00" fill="#000" stroke="#000" stroke-width="0.35" text-anchor="end">10</text></g>
<g transform="translate(62.40,89.68) rotate(0.00) scale(0.950,1)"><text x="0" y="0" font-family="Liberation Serif, serif" font-weight="bold" font-size="13.50" fill="#000" stroke="#000" stroke-width="0.35" text-anchor="end">4</text></g><rect x="48.20" y="85.33" width="6.7" height="1.45" fill="#000"/><g transform="translate(47.50,96.48) rotate(0.00) scale(0.920,1)"><text x="0" y="0" font-family="Liberation Serif, serif" font-weight="bold" font-size="19.00" fill="#000" stroke="#000" stroke-width="0.35" text-anchor="end">10</text></g>
<g transform="translate(62.40,24.10) rotate(0.00) scale(0.950,1)"><text x="0" y="0" font-family="Liberation Serif, serif" font-weight="bold" font-size="13.50" fill="#000" stroke="#000" stroke-width="0.35" text-anchor="end">3</text></g><rect x="48.20" y="19.75" width="6.7" height="1.45" fill="#000"/><g transform="translate(47.50,30.90) rotate(0.00) scale(0.920,1)"><text x="0" y="0" font-family="Liberation Serif, serif" font-weight="bold" font-size="19.00" fill="#000" stroke="#000" stroke-width="0.35" text-anchor="end">10</text></g>
<g transform="translate(190.00,400.60) rotate(0.00) scale(0.960,1)"><text x="0" y="0" font-family="Liberation Serif, serif" font-weight="bold" font-style="italic" font-size="19.00" fill="#000" text-anchor="start">m</text></g>
<g transform="translate(204.00,403.40) rotate(0.00) scale(1.250,1)"><text x="0" y="0" font-family="Liberation Serif, serif" font-style="italic" font-size="12.40" fill="#000" text-anchor="start">V</text></g>
<g transform="translate(220.40,401.00) rotate(0.00) scale(0.885,1)"><text x="0" y="0" font-family="Liberation Serif, serif" font-weight="bold" font-size="20.00" fill="#000" text-anchor="start">(MeV)</text></g>
<g transform="translate(17.30,198.30) rotate(-90.00) scale(1.150,1)"><text x="0" y="0" font-family="Liberation Serif, serif" font-weight="bold" font-style="italic" font-size="18.00" fill="#000" text-anchor="start">g</text></g>
<g transform="translate(19.50,187.50) rotate(-90.00) scale(1.000,1)"><text x="0" y="0" font-family="Liberation Serif, serif" font-style="italic" font-size="13.50" fill="#000" text-anchor="start">V</text></g>
<rect x="279.2" y="249.7" width="93" height="79.3" fill="#fff" stroke="#000" stroke-width="2"/>
<path d="M287.6,271.6 H307.8" stroke="#00aa00" stroke-width="1.5"/>
<path d="M287.6,306.2 H307.8" stroke="#1414aa" stroke-width="1.5"/>
<text x="315.2" y="275.5" font-family="Liberation Serif, serif" font-weight="bold" font-size="14" fill="#10aa18" stroke="#10aa18" stroke-width="0.3">CE<tspan font-style="italic" font-weight="normal">ν</tspan>NS</text>
<text x="315.2" y="310.6" font-family="Liberation Serif, serif" font-weight="bold" font-size="14" fill="#1414aa" stroke="#1414aa" stroke-width="0.3">E<tspan font-style="italic" font-weight="normal">ν</tspan>ES</text>
</svg>
</body></html>
